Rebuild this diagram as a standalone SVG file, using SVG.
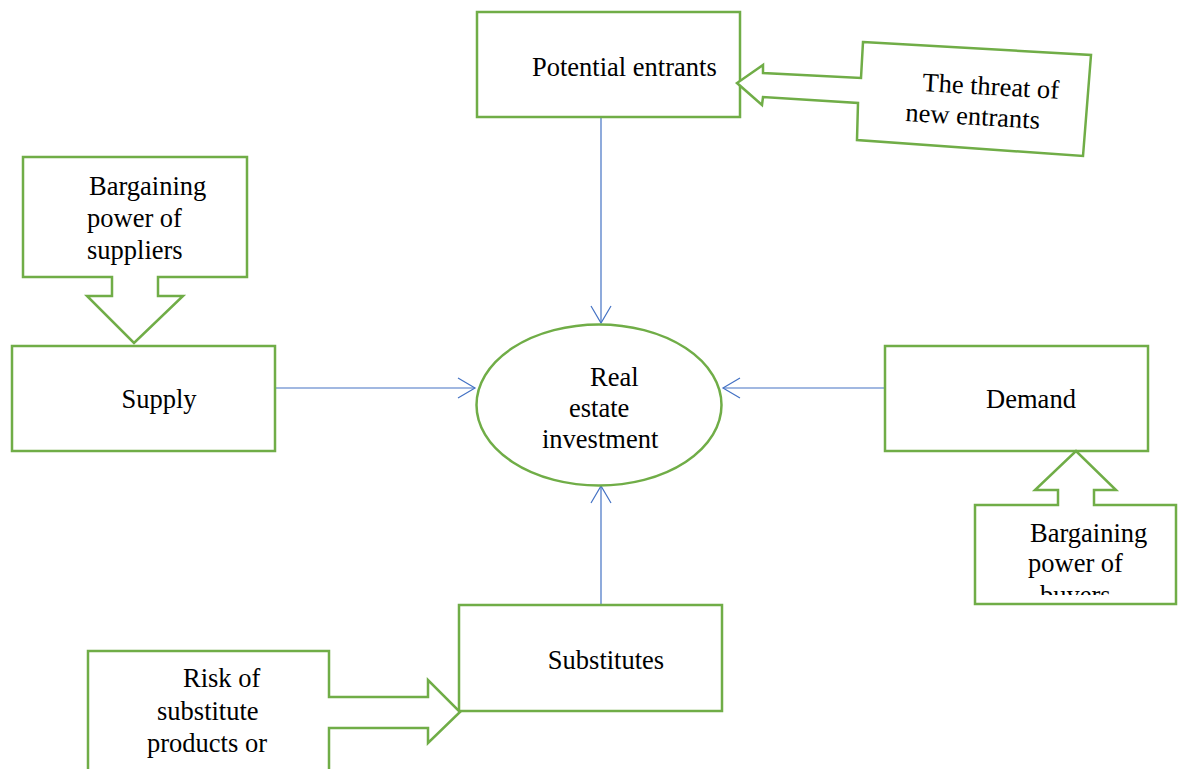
<svg xmlns="http://www.w3.org/2000/svg" width="1181" height="769" viewBox="0 0 1181 769">
<style>
.box{fill:#fff;stroke:#70AD47;stroke-width:2.5}
.t{font-family:"Liberation Serif","Times New Roman",serif;font-size:26.5px;fill:#000}
.c{stroke:#4472C4;stroke-width:1.2;fill:none}
</style>
<defs>
<marker id="arr" markerUnits="userSpaceOnUse" viewBox="0 0 20 22" markerWidth="20" markerHeight="22" refX="18" refY="11" orient="auto">
<path d="M1,1 L18,11 L1,21" fill="none" stroke="#4472C4" stroke-width="1.2"/>
</marker>
<clipPath id="clipBuyers"><rect x="975" y="505" width="201" height="90"/></clipPath>
</defs>
<rect width="1181" height="769" fill="#fff"/>
<g id="connectors">
<line class="c" x1="601" y1="118" x2="601" y2="323" marker-end="url(#arr)"/>
<line class="c" x1="275" y1="388" x2="475" y2="388" marker-end="url(#arr)"/>
<line class="c" x1="885" y1="388" x2="723" y2="388" marker-end="url(#arr)"/>
<line class="c" x1="601" y1="605" x2="601" y2="486" marker-end="url(#arr)"/>
</g>
<g id="potential-entrants">
<rect class="box" x="477" y="12" width="263" height="105"/>
<text class="t" x="532" y="76">Potential entrants</text>
</g>
<g id="threat-new-entrants">
<polygon class="box" points="863,42 1091,55 1083,156 857,140 858,103 763,97 762,105 737,83 763,65 763,73 861,78"/>
<text class="t" x="922" y="91" transform="rotate(3.3 922 91)">The threat of</text>
<text class="t" x="905" y="121" transform="rotate(3.3 905 121)">new entrants</text>
</g>
<g id="bargaining-suppliers">
<polygon class="box" points="23,157 247,157 247,277 158,277 158,296 183,296 134,343 87,296 112,296 112,277 23,277"/>
<text class="t" x="89" y="195">Bargaining</text>
<text class="t" x="87" y="227">power of</text>
<text class="t" x="87" y="259">suppliers</text>
</g>
<g id="supply">
<rect class="box" x="12" y="346" width="263" height="105"/>
<text class="t" x="159" y="408" text-anchor="middle">Supply</text>
</g>
<g id="real-estate-investment">
<ellipse class="box" cx="599" cy="405" rx="122.5" ry="80.5"/>
<text class="t" x="590" y="386">Real</text>
<text class="t" x="569" y="417">estate</text>
<text class="t" x="542" y="448">investment</text>
</g>
<g id="demand">
<rect class="box" x="885" y="346" width="263" height="105"/>
<text class="t" x="1031" y="408" text-anchor="middle">Demand</text>
</g>
<g id="bargaining-buyers">
<polygon class="box" points="975,505 1058,505 1058,490 1035,490 1076,451 1116,490 1094,490 1094,505 1176,505 1176,604 975,604"/>
<g clip-path="url(#clipBuyers)">
<text class="t" x="1030" y="542">Bargaining</text>
<text class="t" x="1028" y="572">power of</text>
<text class="t" x="1040" y="604">buyers</text>
</g>
</g>
<g id="substitutes">
<rect class="box" x="459" y="605" width="263" height="106"/>
<text class="t" x="606" y="669" text-anchor="middle">Substitutes</text>
</g>
<g id="risk-substitutes">
<polygon class="box" points="88,775 88,651 329,651 329,697 428,697 428,680 460,712 428,743 428,728 329,728 329,775"/>
<text class="t" x="183" y="687">Risk of</text>
<text class="t" x="157" y="720">substitute</text>
<text class="t" x="147" y="752">products or</text>
</g>
</svg>
